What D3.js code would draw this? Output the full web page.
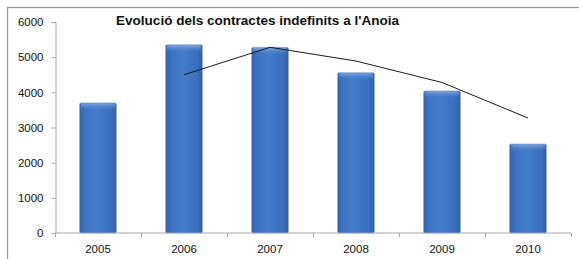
<!DOCTYPE html>
<html>
<head>
<meta charset="utf-8">
<script src="https://cdn.jsdelivr.net/npm/d3@7"></script>
<style>
  body { margin: 0; background: #fff; }
  svg { display: block; }
  text { font-family: "Liberation Sans", Arial, sans-serif; fill: #111; }
</style>
</head>
<body>
<div id="chart"></div>
<script>
// data
var years = ["2005", "2006", "2007", "2008", "2009", "2010"];
var contractes = [3700, 5350, 5280, 4560, 4040, 2530];
// trend line (starts at 2006)
var tendencia = [null, 4500, 5280, 4890, 4280, 3270];
var yTicks = [0, 1000, 2000, 3000, 4000, 5000, 6000];
var titol = "Evolució dels contractes indefinits a l'Anoia";

var W = 579, H = 259;
var margin = { top: 22, right: 8, bottom: 26, left: 55 };

var svg = d3.select("#chart").append("svg")
  .attr("width", W)
  .attr("height", H);

// outer frame (only top and left show in the picture)
svg.append("rect")
  .attr("x", 7.5).attr("y", 7.5)
  .attr("width", W + 20).attr("height", H + 20)
  .attr("fill", "none")
  .attr("stroke", "#9a9a9a")
  .attr("stroke-width", 1.3);

var defs = svg.append("defs");
var g1 = defs.append("linearGradient").attr("id", "barGrad")
  .attr("x1", "0").attr("x2", "1").attr("y1", "0").attr("y2", "0");
g1.append("stop").attr("offset", "0%").attr("stop-color", "#3362ac");
g1.append("stop").attr("offset", "15%").attr("stop-color", "#3d73c3");
g1.append("stop").attr("offset", "45%").attr("stop-color", "#447bcb");
g1.append("stop").attr("offset", "85%").attr("stop-color", "#3b6fbf");
g1.append("stop").attr("offset", "100%").attr("stop-color", "#315fa8");

var g2 = defs.append("linearGradient").attr("id", "capGrad")
  .attr("x1", "0").attr("x2", "0").attr("y1", "0").attr("y2", "1");
g2.append("stop").attr("offset", "0%").attr("stop-color", "#86ace0").attr("stop-opacity", 0.85);
g2.append("stop").attr("offset", "100%").attr("stop-color", "#447bcb").attr("stop-opacity", 0);

var x = d3.scaleBand().domain(years)
  .range([margin.left, W - margin.right])
  .paddingInner(0.57).paddingOuter(0.285);
var y = d3.scaleLinear().domain([0, 6000]).range([H - margin.bottom, margin.top]);

// x axis
var xAxis = svg.append("g")
  .attr("transform", "translate(0," + y(0) + ")");
xAxis.append("line")
  .attr("x1", margin.left).attr("x2", W - margin.right)
  .attr("stroke", "#a6a6a6");
var step = x.step();
d3.range(years.length + 1).forEach(function (i) {
  var xx = Math.round(margin.left + i * step) + 0.5;
  xAxis.append("line").attr("x1", xx).attr("x2", xx)
    .attr("y1", 0).attr("y2", 4).attr("stroke", "#a6a6a6");
});
xAxis.selectAll("text.xl").data(years).enter().append("text")
  .attr("class", "xl")
  .attr("x", function (d) { return x(d) + x.bandwidth() / 2; })
  .attr("y", 20)
  .attr("text-anchor", "middle")
  .attr("font-size", "11.5px")
  .text(function (d) { return d; });

// y axis
var yAxis = svg.append("g")
  .attr("transform", "translate(" + (margin.left + 0.5) + ",0)")
  .call(d3.axisLeft(y).tickValues(yTicks).tickSize(4).tickPadding(8).tickFormat(d3.format("d")));
yAxis.select(".domain").attr("stroke", "#a6a6a6");
yAxis.selectAll(".tick line").attr("stroke", "#a6a6a6");
yAxis.selectAll("text")
  .attr("font-size", "11.5px")
  .attr("font-family", "Liberation Sans, Arial, sans-serif")
  .attr("fill", "#111");

// bars
var bars = svg.append("g").attr("class", "bars");
bars.selectAll("rect.bar").data(contractes).enter().append("rect")
  .attr("class", "bar")
  .attr("x", function (d, i) { return x(years[i]); })
  .attr("y", function (d) { return y(d); })
  .attr("width", x.bandwidth())
  .attr("height", function (d) { return y(0) - y(d); })
  .attr("rx", 1.5)
  .attr("fill", "url(#barGrad)")
  .attr("stroke", "#9fb0c8")
  .attr("stroke-width", 0.8);
bars.selectAll("rect.cap").data(contractes).enter().append("rect")
  .attr("class", "cap")
  .attr("x", function (d, i) { return x(years[i]) + 1; })
  .attr("y", function (d) { return y(d) + 0.5; })
  .attr("width", x.bandwidth() - 2)
  .attr("height", 7)
  .attr("rx", 3)
  .attr("fill", "url(#capGrad)");

// trend line
var line = d3.line()
  .defined(function (d) { return d != null; })
  .x(function (d, i) { return x(years[i]) + x.bandwidth() / 2; })
  .y(function (d) { return y(d); });
svg.append("path")
  .datum(tendencia)
  .attr("d", line)
  .attr("fill", "none")
  .attr("stroke", "#1a1a1a")
  .attr("stroke-width", 1);

// title
svg.append("text")
  .attr("x", 116)
  .attr("y", 25)
  .attr("font-size", "13.5px")
  .attr("font-weight", "bold")
  .attr("textLength", 283)
  .attr("lengthAdjust", "spacingAndGlyphs")
  .text(titol);
</script>
</body>
</html>
